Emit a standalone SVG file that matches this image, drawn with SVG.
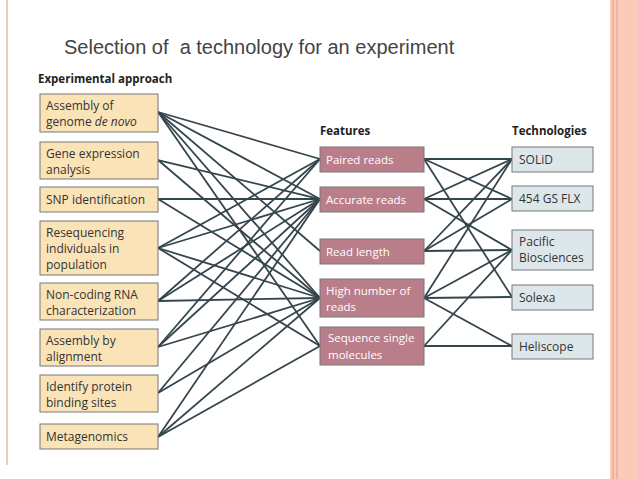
<svg xmlns="http://www.w3.org/2000/svg" width="638" height="479" viewBox="0 0 638 479">
<style>
text{font-family:"Open Sans","DejaVu Sans",sans-serif;font-size:12px;fill:#333}
.h{font-weight:bold;font-size:11.5px;fill:#222}
.a{fill:#fbe3b8;stroke:#777;stroke-width:1}
.f{fill:#b97e8a;stroke:#777;stroke-width:1}
.ft{fill:#fff;font-size:11.5px}
.t{fill:#dde7ea;stroke:#777;stroke-width:1}
#edges line{stroke:#34454d;stroke-width:1.8}
</style>
<rect width="638" height="479" fill="#fff"/>
<rect x="610" y="0" width="28" height="479" fill="#fbcbb8"/>
<line x1="613" y1="0" x2="613" y2="479" stroke="#e89a80" stroke-width="1"/>
<line x1="617" y1="0" x2="617" y2="479" stroke="#e89a80" stroke-width="1"/>
<line x1="7" y1="0" x2="7" y2="465" stroke="#f0b8a8" stroke-width="1.5"/>
<text x="64" y="54" style="font-family:'Liberation Sans',Arial,sans-serif;font-size:20px;fill:#444;white-space:pre">Selection of  a technology for an experiment</text>
<text class="h" x="38" y="83">Experimental approach</text>
<text class="h" x="320" y="135">Features</text>
<text class="h" x="512" y="135">Technologies</text>
<g id="edges">
<line x1="158" y1="112" x2="320" y2="159"/><line x1="158" y1="112" x2="320" y2="199"/><line x1="158" y1="112" x2="320" y2="251"/><line x1="158" y1="112" x2="320" y2="298"/><line x1="158" y1="112" x2="320" y2="346"/>
<line x1="158" y1="160" x2="320" y2="199"/><line x1="158" y1="160" x2="320" y2="298"/>
<line x1="158" y1="199" x2="320" y2="199"/><line x1="158" y1="199" x2="320" y2="298"/>
<line x1="158" y1="248" x2="320" y2="159"/><line x1="158" y1="248" x2="320" y2="199"/><line x1="158" y1="248" x2="320" y2="298"/><line x1="158" y1="248" x2="320" y2="346"/>
<line x1="158" y1="301" x2="320" y2="159"/><line x1="158" y1="301" x2="320" y2="199"/><line x1="158" y1="301" x2="320" y2="298"/>
<line x1="158" y1="347" x2="320" y2="159"/><line x1="158" y1="347" x2="320" y2="199"/><line x1="158" y1="347" x2="320" y2="298"/>
<line x1="158" y1="393" x2="320" y2="199"/><line x1="158" y1="393" x2="320" y2="298"/>
<line x1="158" y1="437" x2="320" y2="199"/><line x1="158" y1="437" x2="320" y2="298"/><line x1="158" y1="437" x2="320" y2="346"/>
<line x1="424" y1="159" x2="512" y2="159"/><line x1="424" y1="159" x2="512" y2="199"/><line x1="424" y1="159" x2="512" y2="297"/>
<line x1="424" y1="199" x2="512" y2="159"/><line x1="424" y1="199" x2="512" y2="199"/><line x1="424" y1="199" x2="512" y2="250"/>
<line x1="424" y1="251" x2="512" y2="159"/><line x1="424" y1="251" x2="512" y2="199"/><line x1="424" y1="251" x2="512" y2="250"/>
<line x1="424" y1="298" x2="512" y2="159"/><line x1="424" y1="298" x2="512" y2="250"/><line x1="424" y1="298" x2="512" y2="297"/><line x1="424" y1="298" x2="512" y2="346"/>
<line x1="424" y1="346" x2="512" y2="250"/><line x1="424" y1="346" x2="512" y2="346"/>
</g>
<g id="a1"><rect class="a" x="40" y="94" width="118" height="38"/><text x="46" y="110">Assembly of</text><text x="46" y="126">genome <tspan font-style="italic">de novo</tspan></text></g>
<g id="a2"><rect class="a" x="40" y="142" width="118" height="37"/><text x="46" y="158">Gene expression</text><text x="46" y="174">analysis</text></g>
<g id="a3"><rect class="a" x="40" y="187" width="118" height="25"/><text x="46" y="204">SNP identification</text></g>
<g id="a4"><rect class="a" x="40" y="221" width="118" height="54"/><text x="46" y="237">Resequencing</text><text x="46" y="253">individuals in</text><text x="46" y="269">population</text></g>
<g id="a5"><rect class="a" x="40" y="283" width="118" height="37"/><text x="46" y="299">Non-coding RNA</text><text x="46" y="315">characterization</text></g>
<g id="a6"><rect class="a" x="40" y="329" width="118" height="37"/><text x="46" y="345">Assembly by</text><text x="46" y="361">alignment</text></g>
<g id="a7"><rect class="a" x="40" y="375" width="118" height="37"/><text x="46" y="391">Identify protein</text><text x="46" y="407">binding sites</text></g>
<g id="a8"><rect class="a" x="40" y="424" width="118" height="25"/><text x="46" y="441">Metagenomics</text></g>
<g id="f1"><rect class="f" x="320" y="147" width="104" height="25"/><text class="ft" x="326" y="164">Paired reads</text></g>
<g id="f2"><rect class="f" x="320" y="187" width="104" height="25"/><text class="ft" x="326" y="204">Accurate reads</text></g>
<g id="f3"><rect class="f" x="320" y="239" width="104" height="25"/><text class="ft" x="326" y="256">Read length</text></g>
<g id="f4"><rect class="f" x="320" y="279" width="104" height="38"/><text class="ft" x="326" y="295">High number of</text><text class="ft" x="326" y="311">reads</text></g>
<g id="f5"><rect class="f" x="320" y="327" width="104" height="38"/><text class="ft" x="328" y="342">Sequence single</text><text class="ft" x="328" y="359">molecules</text></g>
<g id="t1"><rect class="t" x="512" y="147" width="81" height="25"/><text x="519" y="164">SOLiD</text></g>
<g id="t2"><rect class="t" x="512" y="186" width="81" height="25"/><text x="519" y="203">454 GS FLX</text></g>
<g id="t3"><rect class="t" x="512" y="230" width="81" height="40"/><text x="519" y="246">Pacific</text><text x="519" y="262">Biosciences</text></g>
<g id="t4"><rect class="t" x="512" y="285" width="81" height="25"/><text x="519" y="302">Solexa</text></g>
<g id="t5"><rect class="t" x="512" y="334" width="81" height="25"/><text x="519" y="351">Heliscope</text></g>
</svg>
